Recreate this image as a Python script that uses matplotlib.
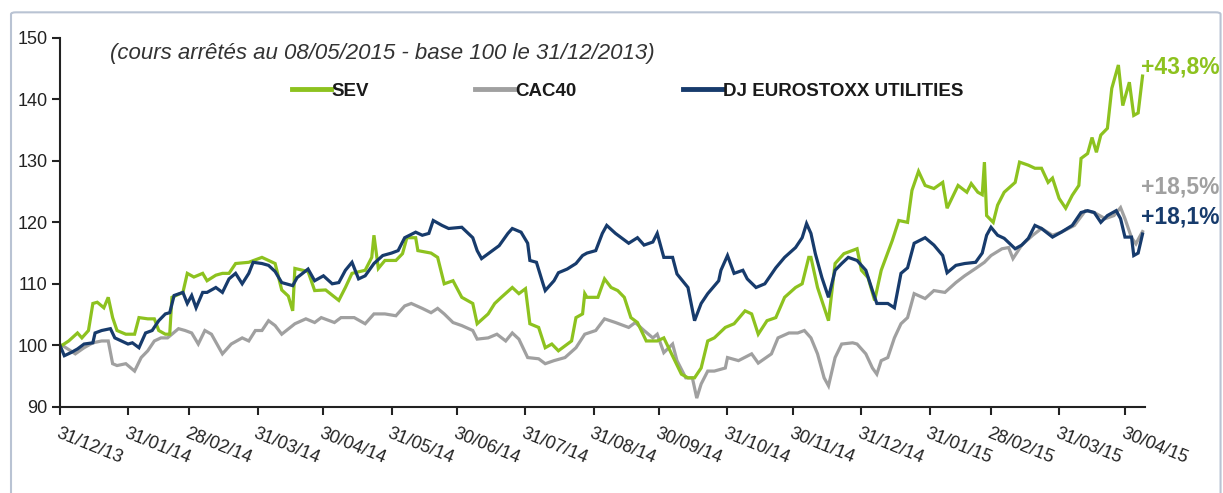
import matplotlib
matplotlib.use("Agg")
import matplotlib.pyplot as plt
import matplotlib.dates as mdates
import pandas as pd
from matplotlib.patches import FancyBboxPatch

plt.rcParams['font.family'] = ['Liberation Sans', 'DejaVu Sans']

base_date = "2013-12-31"

# Days elapsed since 31/12/2013 and index values (base 100)
sev_days = [0, 1, 4, 8, 10, 13, 15, 17, 20, 22, 24, 26, 30, 34, 36, 40, 43, 45, 48, 50,
            51, 56, 58, 61, 65, 67, 71, 74, 77, 80, 86, 92, 98, 101, 104, 106, 107, 113, 116, 121,
            127, 130, 133, 139, 142, 143, 145, 148, 153, 156, 158, 162, 163, 169, 172, 175, 179, 183, 188, 190,
            195, 198, 201, 206, 209, 212, 214, 218, 221, 224, 227, 230, 233, 235, 238, 239, 240, 245, 248, 251,
            254, 257, 260, 263, 267, 272, 275, 280, 283, 286, 289, 292, 295, 298, 303, 307, 312, 315, 318, 322,
            326, 330, 335, 338, 341, 342, 345, 350, 353, 357, 363, 365, 368, 371, 374, 379, 382, 386, 388, 391,
            394, 398, 402, 404, 409, 413, 415, 418, 420, 421, 422, 425, 427, 430, 435, 437, 441, 444, 447, 450,
            452, 455, 458, 461, 464, 465, 468, 470, 472, 474, 477, 479, 482, 484, 487, 489, 491, 493]
sev_values = [100, 100, 100.7, 102, 101.2, 102.4, 106.8, 107, 106.1, 107.8, 104.5, 102.4, 101.8, 101.8, 104.5, 104.3, 104.3, 102.4, 101.8, 101.8,
              107.8, 108.6, 111.7, 111.1, 111.7, 110.5, 111.4, 111.7, 111.7, 113.3, 113.5, 114.3, 113.3, 109, 108, 105.6, 112.5, 112, 108.9, 109,
              107.3, 109.4, 111.7, 112.2, 114.3, 117.9, 112.5, 113.8, 113.8, 114.9, 117.5, 117.5, 115.4, 115, 114.3, 110, 110.5, 107.8, 106.8, 103.5,
              105.1, 106.8, 107.8, 109.4, 108.4, 109.2, 103.5, 102.9, 99.6, 100.2, 99.1, 99.9, 100.7, 104.5, 105.1, 108.4, 107.8, 107.8, 110.8, 109.4,
              108.9, 107.8, 104.5, 103.7, 100.7, 100.7, 101.2, 97.5, 95.3, 94.7, 94.7, 96.3, 100.7, 101.2, 102.9, 103.5, 105.6, 105.1, 101.8, 104,
              104.5, 107.8, 109.4, 110, 114.3, 114.3, 109.4, 104, 113.3, 114.9, 115.7, 112.2, 111, 107.3, 112.2, 117, 120.3, 120, 125.2, 128.3,
              126, 125.5, 126.5, 122.3, 126, 124.9, 126.3, 124.9, 124.5, 129.8, 121.1, 120, 122.8, 124.9, 126.5, 129.8, 129.3, 128.8, 128.8, 126.5,
              127.2, 123.9, 122.3, 124.4, 126, 130.4, 131.2, 133.8, 131.4, 134.2, 135.3, 141.8, 145.6, 139, 142.8, 137.4, 137.8, 143.8]

cac_days = [0, 1, 7, 11, 15, 19, 22, 24, 26, 30, 34, 37, 40, 43, 46, 49, 54, 57, 60, 63,
            66, 69, 74, 78, 83, 86, 89, 92, 95, 98, 101, 107, 112, 116, 119, 125, 128, 134, 139, 143,
            148, 153, 157, 160, 165, 169, 172, 175, 179, 183, 188, 190, 195, 199, 203, 206, 209, 213, 218, 221,
            225, 230, 235, 239, 244, 248, 253, 259, 262, 266, 270, 272, 275, 279, 281, 285, 288, 290, 292, 295,
            298, 303, 304, 309, 315, 318, 324, 327, 332, 336, 339, 342, 345, 348, 350, 353, 356, 361, 363, 367,
            370, 372, 374, 377, 380, 383, 386, 389, 394, 398, 403, 408, 412, 417, 421, 424, 429, 432, 434, 438,
            443, 447, 452, 456, 462, 467, 471, 476, 480, 483, 485, 488, 490, 491, 493]
cac_values = [100, 100, 98.6, 99.6, 100.4, 100.7, 100.7, 97, 96.7, 97, 95.8, 98, 99.1, 100.7, 101.2, 101.2, 102.7, 102.4, 102, 100.2,
              102.4, 101.8, 98.6, 100.2, 101.2, 100.7, 102.4, 102.4, 104, 103.2, 101.8, 103.5, 104.3, 103.7, 104.5, 103.7, 104.5, 104.5, 103.5, 105.1,
              105.1, 104.8, 106.4, 106.8, 106, 105.3, 106, 105.1, 103.7, 103.2, 102.4, 101, 101.2, 101.8, 100.7, 102, 101, 98, 97.8, 97,
              97.5, 98, 99.6, 101.8, 102.4, 104.3, 103.7, 102.9, 103.7, 102.4, 101.2, 101.8, 98.8, 100.2, 97.5, 94.7, 94.7, 91.4, 93.7, 95.8,
              95.8, 96.3, 98, 97.5, 98.6, 97.1, 98.6, 101.2, 102, 102, 102.4, 101.2, 98.6, 94.7, 93.4, 98, 100.2, 100.4, 100.2, 98.6,
              96.3, 95.3, 97.5, 98, 101.2, 103.5, 104.5, 108.4, 107.6, 108.9, 108.6, 110.2, 111.3, 112.5, 113.5, 114.6, 115.7, 115.9, 114.1, 116.3,
              117.9, 119, 117.9, 118.4, 119.5, 121.9, 121.6, 120.6, 121.1, 122.4, 120.6, 117.5, 116.5, 117.2, 118.5]

dj_days = [0, 2, 5, 8, 11, 15, 16, 19, 23, 25, 28, 31, 33, 36, 39, 42, 45, 48, 50, 52,
           56, 58, 60, 62, 65, 67, 71, 74, 77, 80, 83, 86, 88, 92, 95, 98, 101, 106, 108, 113,
           116, 120, 124, 127, 130, 133, 136, 139, 143, 147, 151, 154, 157, 162, 165, 168, 170, 174, 177, 183,
           188, 190, 192, 197, 200, 204, 206, 210, 213, 214, 217, 220, 221, 225, 227, 231, 235, 238, 240, 244,
           247, 249, 253, 259, 263, 266, 270, 272, 275, 279, 281, 286, 289, 292, 295, 300, 301, 304, 307, 311,
           313, 317, 321, 326, 330, 335, 338, 340, 342, 344, 347, 350, 353, 356, 359, 363, 367, 370, 372, 377,
           380, 383, 386, 389, 394, 398, 402, 404, 408, 412, 417, 420, 422, 424, 427, 430, 435, 438, 441, 444,
           447, 452, 456, 461, 465, 468, 471, 474, 477, 481, 483, 485, 488, 489, 491, 493]
dj_values = [100, 98.3, 98.8, 99.4, 100.2, 100.4, 102, 102.4, 102.7, 101.2, 100.7, 100.2, 100.4, 99.6, 102, 102.4, 104, 105.1, 105.3, 108.1,
             108.6, 106.8, 108.1, 106.1, 108.6, 108.6, 109.4, 108.6, 110.8, 111.7, 110, 111.7, 113.5, 113.3, 113, 112, 110.2, 109.7, 111, 112.4,
             110.5, 111.3, 110, 110.2, 112.2, 113.5, 110.8, 111.3, 113.3, 114.6, 115, 115.4, 117.5, 118.4, 117.9, 118.2, 120.3, 119.5, 119, 119.2,
             117.5, 115.4, 114.1, 115.4, 116.2, 118.2, 119, 118.4, 116.6, 113.8, 113.5, 110, 108.9, 110.5, 111.8, 112.4, 113.3, 114.6, 115, 115.4,
             118.2, 119.5, 118.2, 116.6, 117.5, 116.3, 116.8, 118.2, 114.3, 114.3, 111.6, 109.4, 104, 106.8, 108.4, 110.5, 112.2, 114.6, 111.7, 112.2,
             110.8, 109.4, 110, 112.6, 114.3, 115.9, 117.5, 119.8, 118.2, 114.9, 111, 107.8, 112.2, 113.3, 114.3, 113.8, 112.2, 108.9, 106.8, 106.8,
             106.1, 111.7, 112.6, 116.6, 117.5, 116.3, 114.6, 111.8, 113, 113.3, 113.5, 115, 117.9, 119.2, 117.9, 117.4, 115.7, 116.3, 117.4, 119.5,
             119, 117.6, 118.4, 119.5, 121.6, 121.9, 121.6, 120, 121.1, 121.9, 120.6, 117.6, 117.6, 114.6, 115, 118.1]

series_names = ["SEV", "CAC40", "DJ EUROSTOXX UTILITIES"]
series_colors = ["#8DC21F", "#A0A0A0", "#173B6C"]
final_labels = ["+43,8%", "+18,5%", "+18,1%"]
label_values = [145.3, 125.8, 120.8]

tick_dates = ["2013-12-31", "2014-01-31", "2014-02-28", "2014-03-31", "2014-04-30", "2014-05-31",
              "2014-06-30", "2014-07-31", "2014-08-31", "2014-09-30", "2014-10-31", "2014-11-30",
              "2014-12-31", "2015-01-31", "2015-02-28", "2015-03-31", "2015-04-30"]
end_date = "2015-05-09"

def to_dates(days):
    return pd.Timestamp(base_date) + pd.to_timedelta(days, unit="D")

fig = plt.figure(figsize=(12.23, 4.93), dpi=100)
# outer frame
frame = FancyBboxPatch((0.009, -0.05), 0.989, 1.025, boxstyle="round,pad=0,rounding_size=0.004",
                       transform=fig.transFigure, facecolor="none", edgecolor="#B9C3D3",
                       linewidth=1.5, zorder=0)
fig.patches.append(frame)

ax = fig.add_axes([0.049, 0.175, 0.887, 0.748])
ax.set_facecolor("none")

data = [(cac_days, cac_values, 1), (sev_days, sev_values, 0), (dj_days, dj_values, 2)]
handles = {}
for d, v, i in data:
    ln, = ax.plot(to_dates(d), v, color=series_colors[i], linewidth=2.3, solid_joinstyle="miter",
                  label=series_names[i])
    handles[i] = ln

ax.set_ylim(90, 150)
ax.set_yticks([90, 100, 110, 120, 130, 140, 150])
ax.set_xlim(pd.Timestamp(base_date), pd.Timestamp(end_date))
ax.set_xticks(pd.to_datetime(tick_dates))
ax.xaxis.set_major_formatter(mdates.DateFormatter("%d/%m/%y"))

for s in ["top", "right"]:
    ax.spines[s].set_visible(False)
for s in ["left", "bottom"]:
    ax.spines[s].set_linewidth(1.5)
    ax.spines[s].set_color("#222222")
ax.tick_params(axis="both", direction="out", width=1.5, length=6, color="#222222",
               labelsize=13, labelcolor="#222222")
ax.tick_params(axis="y", pad=3)
ax.tick_params(axis="x", pad=7)
for lab in ax.get_xticklabels():
    lab.set_rotation(-22)
    lab.set_ha("left")
    lab.set_va("top")
    lab.set_rotation_mode("anchor")

ax.text(0.046, 0.958, "(cours arrêtés au 08/05/2015 - base 100 le 31/12/2013)",
        transform=ax.transAxes, fontsize=16, style="italic", color="#333333",
        ha="left", va="center")

leg = ax.legend([handles[0], handles[1], handles[2]], series_names, loc="center left",
                bbox_to_anchor=(0.198, 0.855), ncol=3, frameon=False,
                handlelength=2.1, handletextpad=0.05, columnspacing=5.65,
                prop={"weight": "bold", "size": 13.5})
for t in leg.get_texts():
    t.set_color("#1a1a1a")
for lh in leg.get_lines():
    lh.set_linewidth(3.5)

for i in range(3):
    ax.text(0.997, label_values[i], final_labels[i], transform=ax.get_yaxis_transform(),
            color=series_colors[i], fontsize=16.5, fontweight="bold", ha="left", va="center",
            clip_on=False)

fig.savefig("out.png", dpi=100)
